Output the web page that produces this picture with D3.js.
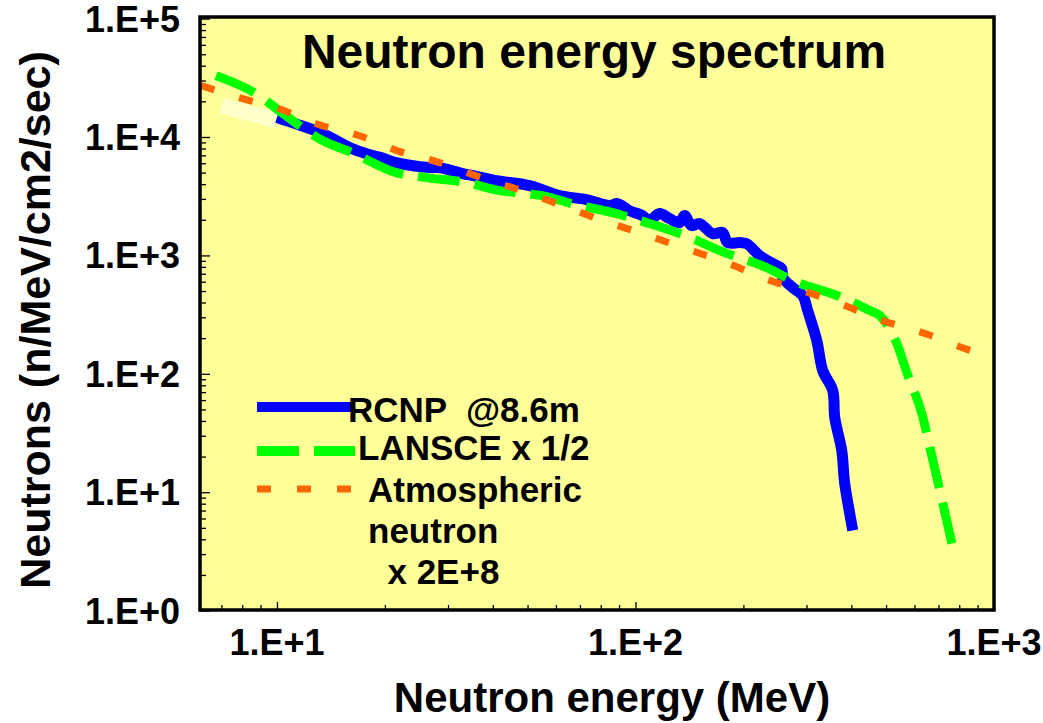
<!DOCTYPE html>
<html>
<head>
<meta charset="utf-8">
<script src="https://cdn.jsdelivr.net/npm/d3@7"></script>
<style>
  html, body { margin: 0; padding: 0; background: #ffffff; }
  svg { display: block; }
  text { font-family: "Liberation Sans", Arial, sans-serif; font-weight: bold; fill: #000; }
</style>
</head>
<body>
<svg id="chart" width="1043" height="723"></svg>
<script>
// ---------------- DATA ----------------
const titleText = "Neutron energy spectrum";
const xTitle = "Neutron energy (MeV)";
const yTitle = "Neutrons (n/MeV/cm2/sec)";

const xTickValues = [10, 100, 1000];
const xTickLabels = ["1.E+1", "1.E+2", "1.E+3"];
const yTickValues = [1, 10, 100, 1000, 10000, 100000];
const yTickLabels = ["1.E+0", "1.E+1", "1.E+2", "1.E+3", "1.E+4", "1.E+5"];

// RCNP @8.6m (MeV, n/MeV/cm2/sec)
const rcnpE    = [10.0, 11.3, 13.4, 16.2, 17.7, 19.5, 21.5, 26.6, 28.5, 32.9, 35.5, 40.9, 50.6, 61.4, 73.0, 84.6, 89.1, 96.2, 104.6, 109.4, 116.7, 124.4, 132.7, 137.1, 143.4, 151, 164.1, 175, 180.7, 195.3, 204.2, 222, 241.4, 255.7, 257.4, 274.5, 292.8, 302.2, 320.4, 332.9, 355.0, 359.6, 376.1, 383.4, 403.7];
const rcnpFlux = [14600, 12900, 10700, 7980, 7240, 6700, 6080, 5520, 5500, 4910, 4700, 4280, 3890, 3200, 2960, 2635, 2740, 2390, 2170, 1968, 2254, 2047, 1892, 2170, 1785, 1857, 1528, 1559, 1283, 1283, 1258, 996, 853, 774, 649, 535, 458, 342, 190.7, 106.4, 72.1, 42.7, 22.5, 11.8, 4.74];

// RCNP below 10 MeV (faded segment)
const rcnpLowE    = [7.02, 9.94];
const rcnpLowFlux = [18400, 13800];

// LANSCE x 1/2
const lansceE    = [6.76, 8.91, 10.3, 13.4, 16.2, 21.5, 26.1, 33.7, 41.7, 49.6, 55.0, 66.3, 88.5, 107.3, 144.3, 171.6, 232.2, 274.5, 371.4, 450.4, 480.4, 535.8, 571.4, 633.5, 662.6, 706.4, 763.3];
const lansceFlux = [33000, 22400, 16100, 9330, 7380, 5000, 4540, 4120, 3525, 3325, 3200, 2738, 2254, 1892, 1387, 1098, 788, 612, 449, 342, 310, 180, 102.4, 42.7, 23.8, 10.3, 3.68];

// Atmospheric neutron x 2E+8
const atmosE    = [6.14, 7.83, 10.1, 13.1, 16.9, 21.6, 28.4, 37.1, 48.0, 62.5, 80.9, 104.6, 135.3, 179.6, 229.3, 292.8, 383.4, 489.7, 641.7, 829.8, 914];
const atmosFlux = [27200, 21500, 17400, 12700, 10300, 7680, 6080, 4540, 3525, 2635, 1968, 1528, 1164, 869, 637, 504, 377, 281, 219, 163, 148];

const legendLabels = [["RCNP  @8.6m"], ["LANSCE x 1/2"], ["Atmospheric", "neutron", "  x 2E+8"]];

// ---------------- CHART ----------------
const svg = d3.select("#chart");
const plot = { left: 200, right: 994, top: 17, bottom: 610 };

const x = d3.scaleLog().domain([6.1, 1000]).range([plot.left, plot.right]);
const y = d3.scaleLog().domain([1, 100000]).range([610.6, 18.6]);

// background of plot
svg.append("rect")
  .attr("x", plot.left).attr("y", plot.top)
  .attr("width", plot.right - plot.left).attr("height", plot.bottom - plot.top)
  .attr("fill", "#FFFF99");

svg.append("clipPath").attr("id", "clip")
  .append("rect")
  .attr("x", plot.left).attr("y", plot.top)
  .attr("width", plot.right - plot.left).attr("height", plot.bottom - plot.top);

// minor/major ticks
const yMinor = [];
for (let d = 0; d < 5; d++) for (let m = 2; m <= 9; m++) yMinor.push(m * Math.pow(10, d));
const xMinor = [];
for (let d = 0; d < 3; d++) for (let m = 2; m <= 9; m++) {
  const v = m * Math.pow(10, d);
  if (v >= 6.1 && v <= 1000) xMinor.push(v);
}

const yAxis = d3.axisRight(y).tickValues(yMinor).tickSize(6).tickFormat("");
const gy = svg.append("g").attr("transform", `translate(${plot.left},0)`).call(yAxis);
const gyMaj = svg.append("g").attr("transform", `translate(${plot.left},0)`)
  .call(d3.axisRight(y).tickValues(yTickValues).tickSize(10).tickFormat(""));
const xAxis = d3.axisTop(x).tickValues(xMinor).tickSize(5).tickFormat("");
const gx = svg.append("g").attr("transform", `translate(0,${plot.bottom})`).call(xAxis);
const gxMaj = svg.append("g").attr("transform", `translate(0,${plot.bottom})`)
  .call(d3.axisTop(x).tickValues(xTickValues).tickSize(8).tickFormat(""));
[gy, gyMaj, gx, gxMaj].forEach(g => {
  g.select(".domain").remove();
  g.selectAll(".tick line").attr("stroke", "#000").attr("stroke-width", 1.3);
});

// tick labels
svg.append("g").selectAll("text").data(yTickValues).join("text")
  .attr("x", 180).attr("y", d => y(d)).attr("dy", "0.36em")
  .attr("text-anchor", "end").attr("font-size", 36)
  .text((d, i) => yTickLabels[i]);
svg.append("g").selectAll("text").data(xTickValues).join("text")
  .attr("x", d => x(d)).attr("y", 655)
  .attr("text-anchor", "middle").attr("font-size", 36)
  .text((d, i) => xTickLabels[i]);

// axis titles
svg.append("text").attr("x", 612).attr("y", 712).attr("text-anchor", "middle")
  .attr("font-size", 42).text(xTitle);
svg.append("text").attr("transform", "translate(50,320) rotate(-90)")
  .attr("text-anchor", "middle").attr("font-size", 43).text(yTitle);

// title
svg.append("text").attr("x", 594).attr("y", 68).attr("text-anchor", "middle")
  .attr("font-size", 48).text(titleText);

// lines
const line = d3.line().x(d => x(d[0])).y(d => y(d[1])).curve(d3.curveMonotoneX);
const lines = svg.append("g").attr("clip-path", "url(#clip)");

lines.append("path").datum(rcnpLowE.map((e, i) => [e, rcnpLowFlux[i]]))
  .attr("d", d3.line().x(d => x(d[0])).y(d => y(d[1])))
  .attr("fill", "none").attr("stroke", "#FFFFCC").attr("stroke-width", 16);

lines.append("path").datum(rcnpE.map((e, i) => [e, rcnpFlux[i]]))
  .attr("d", d3.line().x(d => x(d[0])).y(d => y(d[1])).curve(d3.curveCatmullRom.alpha(0.5)))
  .attr("fill", "none").attr("stroke", "#0000FF").attr("stroke-width", 11)
  .attr("stroke-linejoin", "round");

lines.append("path").datum(lansceE.map((e, i) => [e, lansceFlux[i]]))
  .attr("d", line)
  .attr("fill", "none").attr("stroke", "#00FF00").attr("stroke-width", 9)
  .attr("stroke-dasharray", "42,15");

lines.append("path").datum(atmosE.map((e, i) => [e, atmosFlux[i]]))
  .attr("d", line)
  .attr("fill", "none").attr("stroke", "#FF6600").attr("stroke-width", 7)
  .attr("stroke-dasharray", "14,26");

// frame
svg.append("rect")
  .attr("x", plot.left).attr("y", plot.top)
  .attr("width", plot.right - plot.left).attr("height", plot.bottom - plot.top)
  .attr("fill", "none").attr("stroke", "#000").attr("stroke-width", 3.5);

// legend
const lg = svg.append("g");
lg.append("line").attr("x1", 257).attr("x2", 352).attr("y1", 407).attr("y2", 407)
  .attr("stroke", "#0000FF").attr("stroke-width", 10);
lg.append("line").attr("x1", 257).attr("x2", 355).attr("y1", 451).attr("y2", 451)
  .attr("stroke", "#00FF00").attr("stroke-width", 10).attr("stroke-dasharray", "42,15");
lg.append("line").attr("x1", 257).attr("x2", 352).attr("y1", 489).attr("y2", 489)
  .attr("stroke", "#FF6600").attr("stroke-width", 7).attr("stroke-dasharray", "14,26");

const legendPos = [[348, 422], [358, 460], [368, 502]];
legendLabels.forEach((lines, i) => {
  const t = lg.append("text").attr("x", legendPos[i][0]).attr("y", legendPos[i][1])
    .attr("font-size", 35).attr("xml:space", "preserve").style("white-space", "pre");
  lines.forEach((s, j) => {
    t.append("tspan").attr("x", legendPos[i][0]).attr("dy", j === 0 ? 0 : 41).text(s);
  });
});
</script>
</body>
</html>
